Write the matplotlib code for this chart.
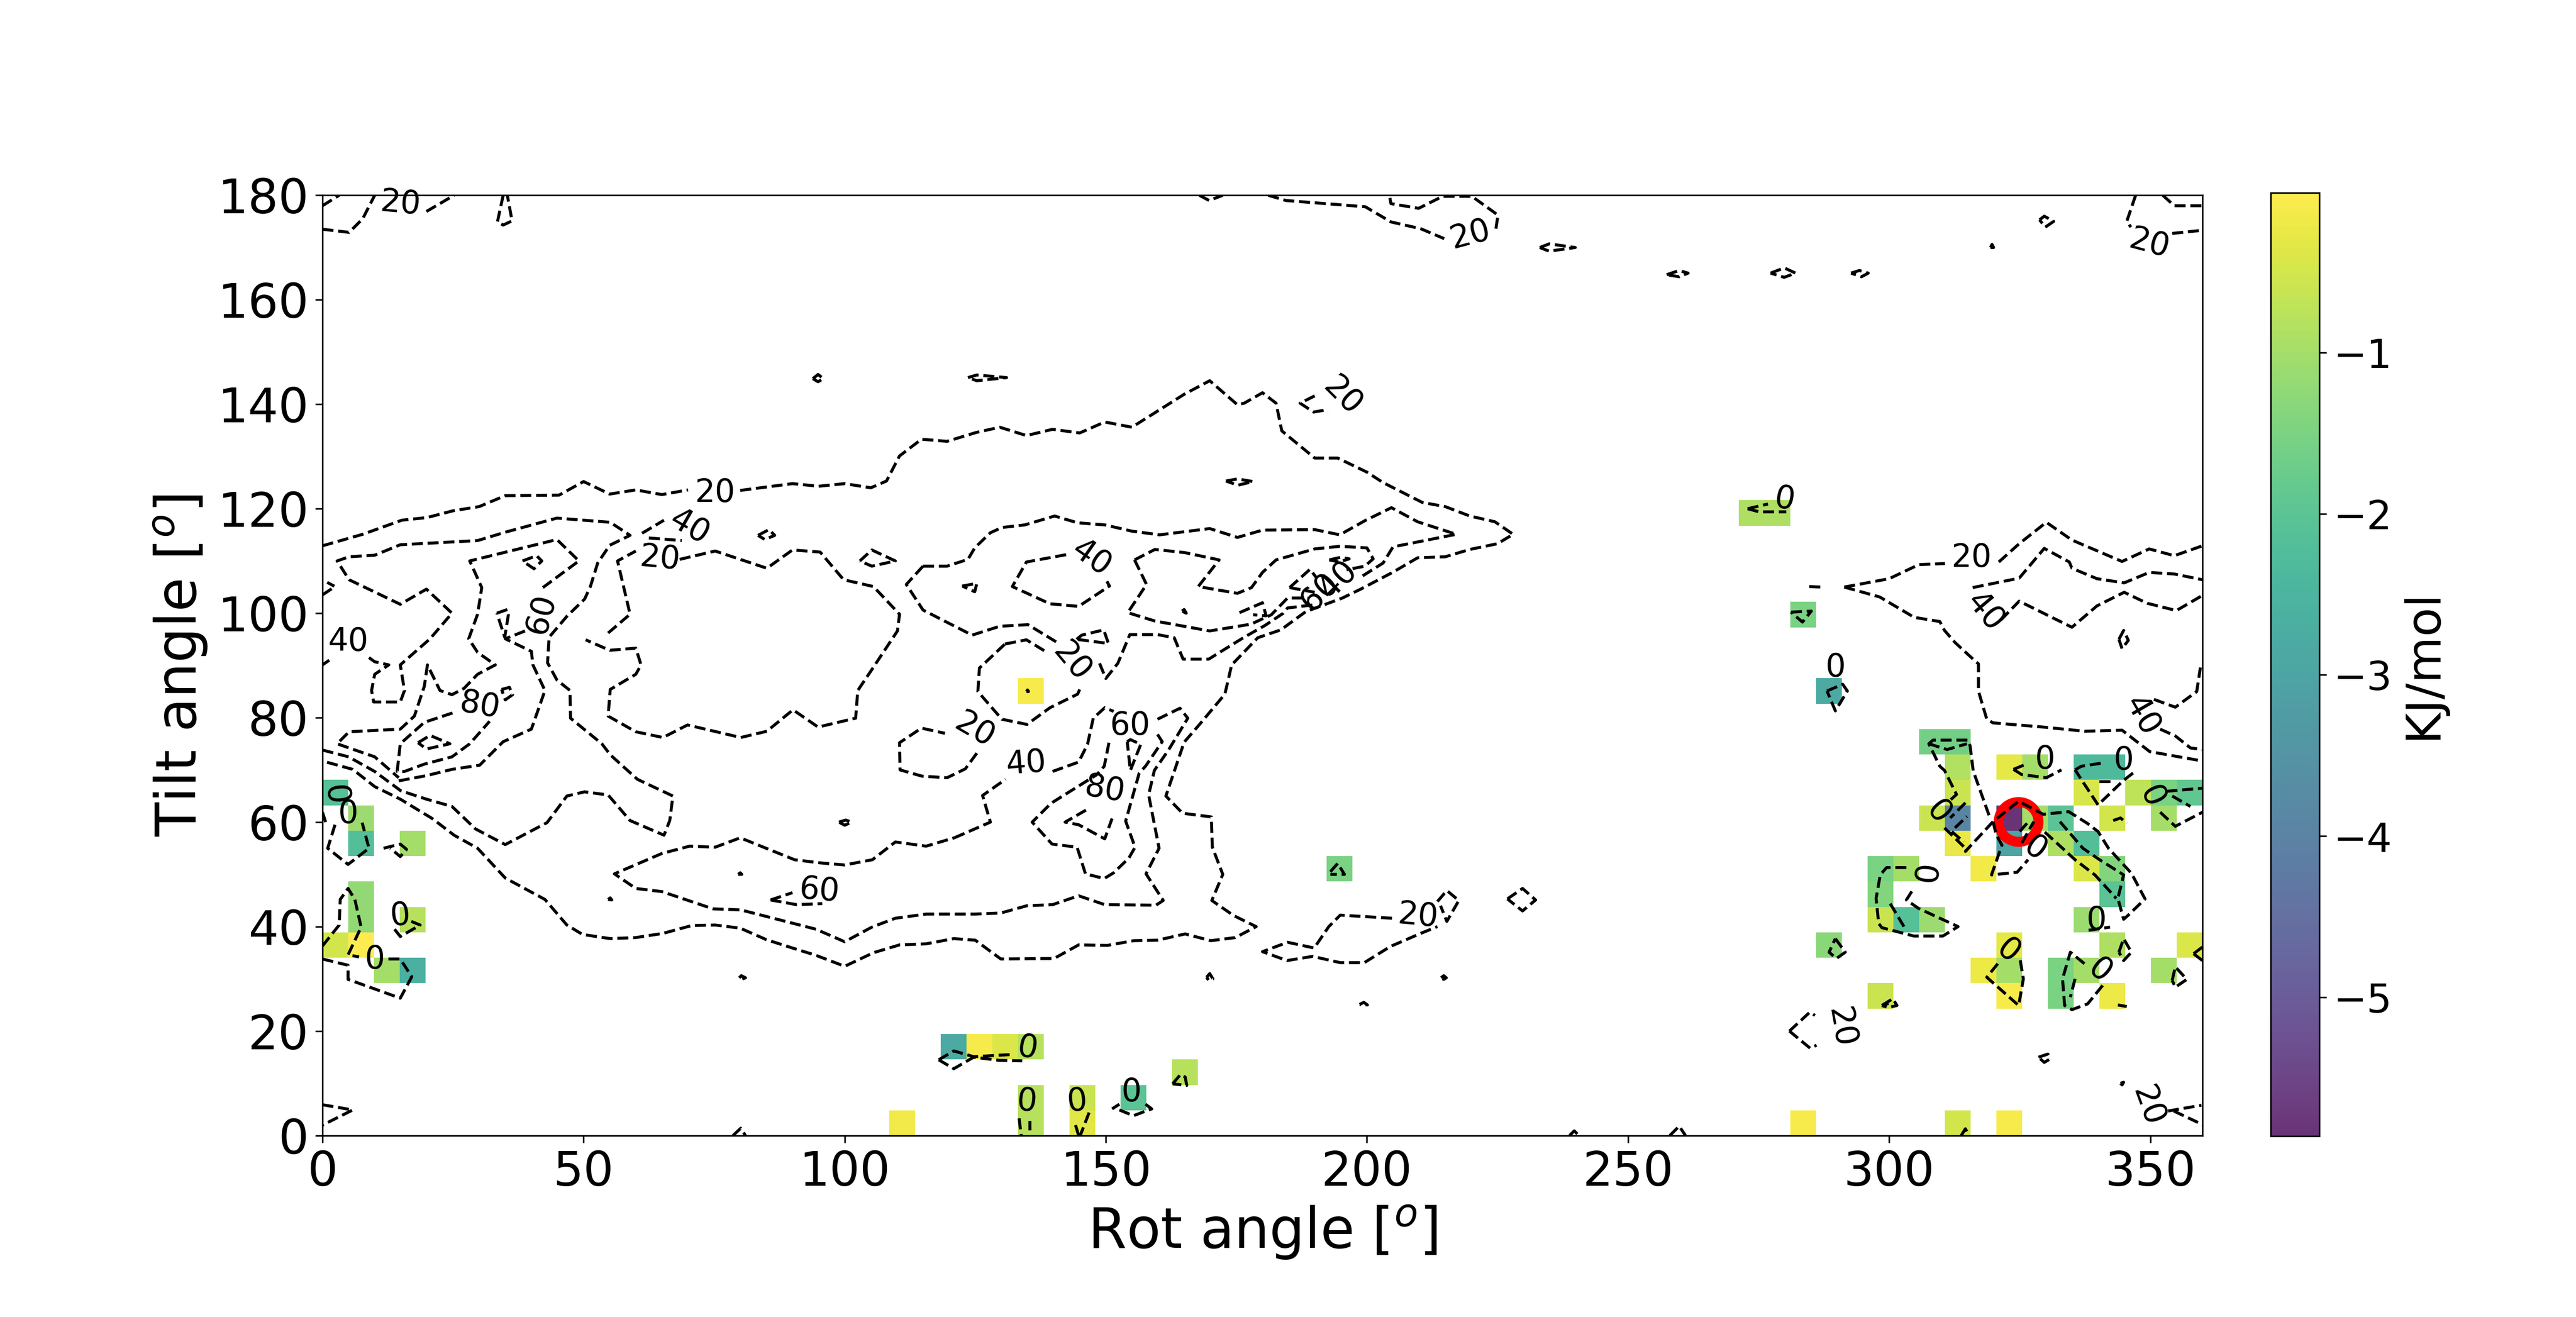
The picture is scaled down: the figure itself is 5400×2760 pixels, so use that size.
import numpy as np
import matplotlib
matplotlib.use('Agg')
import matplotlib.pyplot as plt

# free energy cells, grid is 73 x 37 stretched over the axes
heat_col = [0, 1, 1, 3, 1, 1, 3, 0, 1, 2, 3, 22, 24, 25, 26, 27, 27, 27, 29, 29, 31, 33, 39, 27,
            55, 56, 57, 58, 62, 63, 63, 63, 65, 66, 68, 69, 68, 70, 71, 72,
            62, 63, 65, 66, 67, 69, 71, 63, 65, 67, 68,
            60, 61, 64, 68, 69, 60, 69, 60, 61, 62, 68,
            58, 65, 69, 72, 64, 65, 67, 68, 71, 60, 65, 67, 69, 57, 63, 65]
heat_row = [13, 12, 11, 11, 9, 8, 8, 7, 7, 6, 6, 0, 3, 3, 3, 3, 0, 1, 0, 1, 1, 2, 10, 17,
            24, 24, 20, 17, 15, 15, 14, 13, 14, 14, 14, 14, 13, 13, 13, 13,
            12, 12, 12, 12, 12, 12, 12, 11, 11, 11, 11,
            10, 10, 10, 10, 10, 9, 9, 8, 8, 8, 8,
            7, 7, 7, 7, 6, 6, 6, 6, 6, 5, 5, 5, 5, 0, 0, 0]
heat_val = [-2.1, -1.1, -2.2, -1.0, -1.2, -1.2, -0.8, -0.5, -0.01, -1.0, -2.6, -0.15, -2.8, -0.1, -0.4, -0.8,
            -0.8, -0.8, -0.35, -0.6, -2.0, -0.8, -1.5, -0.1,
            -0.9, -0.9, -1.5, -2.8, -1.6, -1.6, -0.85, -0.6, -0.3, -1.0, -2.3, -2.3, -0.45, -0.7, -1.5, -1.9,
            -0.6, -3.9, -5.86, -1.0, -2.0, -0.5, -1.0, -0.25, -3.0, -0.9, -2.2,
            -1.5, -1.0, -0.15, -0.4, -1.4, -1.4, -2.0, -0.6, -2.1, -1.1, -1.1,
            -1.3, -0.3, -0.9, -0.4, -0.2, -1.0, -1.5, -1.0, -1.0, -0.6, -0.1, -1.5, -0.2, -0.1, -0.5, -0.1]

target_rot = 324.7
target_tilt = 60.1

# contour lines, (rot, tilt)
lines_20 = [
    [(0, 112.9), (7.7, 115.1), (15.2, 117.8), (20, 118.3), (25, 119.6), (30, 120.4), (35, 122.5), (45.3, 122.6),
     (50, 125.2), (55, 122.8), (60, 123.6), (65, 122.7), (70, 123.6)],
    [(80, 123.5), (90, 124.8), (95, 124.3), (100, 124.8), (105, 124), (108, 125.3), (110.5, 130.1), (114.7, 133.3),
     (119.6, 132.9), (125.2, 134.6), (129.7, 135.6), (134.8, 134), (139.8, 135.2), (145, 134.5), (149.8, 136.6),
     (155, 135.6), (158.5, 137.8), (165, 141.9), (169.9, 144.5), (175.2, 139.9), (176.5, 140.2), (180, 142.2),
     (182.6, 140.2), (183.7, 134.9), (190, 129.7), (194.4, 129.7), (200, 127), (203.1, 125), (210.6, 121.2),
     (215, 120.4), (219.7, 118.6), (224.5, 117.5), (228, 115.1), (225, 113.3), (219.7, 112.2), (215, 110.8),
     (209.7, 110.6), (204.9, 107.8), (198.8, 104.6), (195.3, 102.9), (188.3, 100.3), (183.5, 96.8), (179.1, 95.3),
     (174.1, 90.1), (172.8, 84.5), (168.2, 79), (165, 75.3), (161.5, 65), (164.7, 61.7), (170.2, 61), (170.4, 55.2),
     (172.4, 50), (170.3, 45), (174.5, 42.1), (178.8, 40), (174.8, 37.9), (170.1, 37.3), (165.2, 38.6),
     (159.9, 37.4), (155.3, 37.3), (150.3, 36.4), (144.8, 36.5), (140.1, 33.9), (129.9, 33.8), (125, 37.4),
     (120.9, 37.7), (115.6, 36.7), (110.5, 36.5), (105.5, 35), (100, 32.4), (94.5, 34.5), (90, 35.9), (85, 37.5),
     (80, 39.7), (75.2, 40.3), (70.7, 40.2), (65.2, 38.7), (60, 37.9), (55.1, 37.7), (49.8, 38.5), (46.8, 40.3),
     (42.6, 45.2), (35, 49.3), (29.7, 55), (25.2, 57.5), (21, 60.7), (14.9, 64.4), (10, 66.8), (5.8, 70.1), (0, 71.7)],
    [(68.4, 110.3), (75.2, 111.9), (85.1, 108.6), (90, 112.1), (95.3, 111.7), (99.8, 106.4), (105.5, 105.1),
     (110.5, 99.8), (110.1, 96.6), (105.2, 89.2), (102.5, 85.2), (102.1, 79.9), (94.9, 78.2), (90.1, 81.5),
     (85.1, 77.4), (80.1, 76.2), (69.9, 78.6), (65.2, 76.2), (60, 77.3), (54.7, 80.3), (55.1, 85.4), (60, 88.3),
     (61, 90.1), (60, 93.3), (55, 92.9), (50.4, 94.9)],
    [(54.7, 96.2), (58.9, 99.8), (56.5, 110), (60, 111.9)],
    [(130.7, 94.1), (134.8, 94.9), (138.4, 92.7)],
    [(145, 85.4), (144.6, 84.5), (139.3, 81.9), (134.9, 78.7), (130.1, 79.7), (125.5, 85), (125.8, 89.5), (130.7, 94.1)],
    [(125.3, 73.2), (123.1, 70.2), (119.6, 68.5), (114.8, 68.8), (110.6, 70), (110.5, 75.2), (114.7, 78), (119.2, 77)],
    [(204.8, 41.6), (194.9, 42.2), (192.7, 40), (189.9, 35.9), (184.8, 37), (180, 35.2), (184.7, 33.5), (189.6, 34.3),
     (194.9, 33.1), (199.5, 33.1), (204.5, 36.2), (210.3, 38.7), (213.5, 40)],
    [(291.4, 105), (300, 106.6), (305.7, 109.3), (310.7, 109.5)],
    [(321, 109.8), (324.9, 113.3), (330.1, 117.4), (335, 114), (344.6, 109.9), (349.8, 112.3), (354.6, 111), (360, 112.9)],
    [(291.4, 105), (298.2, 103.1), (304.8, 99.2), (309.7, 98.4), (310.6, 96.7), (312.6, 94.4), (316.4, 90.9),
     (317.1, 90.3), (317.1, 85.1), (318.7, 79.7), (319.9, 79), (329.5, 78.2), (337.4, 77.4), (344.6, 77.6),
     (349.9, 73.5), (360, 71.7)],
    [(347.2, 180), (345.5, 175), (346.3, 173.9)],
    [(354.2, 172.7), (360, 173.3)],
    [(352.4, 180), (354.6, 178), (360, 178)],
    [(181.1, 180), (184.5, 179), (199.7, 177.8), (204.6, 174.9), (210.3, 173.6), (214.8, 171.7)],
    [(224.7, 173.6), (225.1, 176.2), (220.1, 179.8), (214.5, 179.8), (209.9, 177.5), (204.6, 178.4), (204.4, 179.5)],
    [(167.9, 180), (169.8, 179), (172.4, 180)],
    [(0, 178), (3.2, 180)],
    [(0, 173.5), (5.1, 172.9), (7.7, 175.5), (10, 180)],
    [(19.9, 176.9), (25.2, 180)],
    [(34.6, 180), (33.5, 174.9), (34.6, 174.3), (36.3, 175.1), (35.4, 180)],
    [(190, 141.6), (187.2, 140.2), (189.8, 138.5), (192.6, 139)],
    [(280.9, 20), (284.8, 23.6), (285.8, 23)],
    [(280.9, 20), (284.9, 16.7), (286.1, 17.3)],
    [(353.4, 4.7), (359.8, 5.8)],
    [(354.5, 4.7), (360, 2.1)],
    [(0, 103.5), (2.4, 105.1), (0.9, 105.9)],
]

lines_40 = [
    [(0, 90.1), (1.3, 91)],
    [(8.9, 91.5), (10, 90.7), (12.7, 90.1), (10, 88.3), (9.4, 85.2), (9.8, 83), (14.9, 83), (15.7, 85.2), (14.9, 90.1),
     (20.6, 95.1), (24.8, 100), (19.9, 104.6), (14.9, 101.7), (5.1, 106.4), (2.8, 110), (5.1, 110.8), (10, 111.1),
     (14.9, 113.1), (29.7, 113.9), (35, 115.5), (44.9, 118.2), (55.1, 117.4), (58.9, 114.9), (55, 113), (52.7, 109.6),
     (51.3, 105.1), (50.2, 102.7), (46.8, 99.4), (43.4, 95.4), (43.1, 90.5), (44.9, 87.2), (47.4, 85.2), (47.5, 79.9),
     (53.5, 75), (55.1, 72.9), (60.3, 68.2), (67.1, 65), (66.5, 60.3), (65.4, 57.5), (58.9, 60.3), (54.7, 65.2),
     (50.2, 65.8), (46.8, 65), (43, 59.9), (35, 55.7), (29.3, 58.7), (24.8, 63), (19.9, 64.4), (15, 66), (10, 69.7),
     (5, 72.5), (0, 73.8)],
    [(61.2, 115.3), (65.4, 117.8)],
    [(62.5, 114.4), (68.8, 113.9)],
    [(142.4, 111.2), (134.8, 109.8), (132.1, 105.1), (139.3, 101.8), (144.8, 101.3), (150.7, 105.2), (150.2, 106.1)],
    [(115, 109), (119.6, 109), (123.6, 110.3), (124.9, 112.5), (127.9, 115.4), (130.1, 116.4), (134.5, 116.9),
     (140.2, 118.6), (144.6, 117.3), (149.8, 116.9), (155, 115.7), (160.3, 115), (169.9, 116.2), (175.2, 114.5),
     (180, 115.9), (190, 116), (194.8, 115), (199.6, 117.7), (204.7, 120.2), (209.7, 117.5), (217.1, 115.1),
     (205, 112.7), (203.1, 109.6), (198.8, 106.9)],
    [(115, 109), (111.8, 105.5), (115, 100.6), (124.4, 95.8), (129.7, 97.5), (135.1, 97.8), (141, 94.2)],
    [(148.8, 90.4), (150, 87.5), (152.3, 90.4), (154.6, 95.9), (159.9, 95.9), (163.1, 95.3), (164.8, 91.2),
     (169.7, 91.2), (176.5, 95.4), (180.4, 97.6), (184, 100), (184.8, 101), (189.8, 101.6)],
    [(121, 57), (127.9, 60), (126.4, 65.1), (130.8, 68.2)],
    [(139.8, 69.7), (144.8, 71.5), (146.5, 74.9), (147.6, 79.9), (149.8, 81.9), (151.5, 81.2)],
    [(159.9, 79.7), (164.2, 81.8), (165.7, 79.9), (162, 73.8), (159.3, 69.9), (158.2, 65.2), (160.2, 55), (157.7, 50.1),
     (161, 45), (159.6, 44.1), (149.8, 44.2), (144.8, 45.9), (139.8, 44.2), (134.9, 44), (129.9, 42.6), (125, 42.4),
     (120.9, 42.4), (115.6, 42.4), (109.7, 41.6), (105.2, 39.9), (100, 37.1), (94.5, 39.5), (80.1, 43.2), (74.8, 43.4),
     (65, 46.7), (60, 47.3), (55.9, 50.1), (65, 54), (70.3, 55.4), (75.2, 55.2), (80, 57), (90.4, 52.8), (95.3, 52.2),
     (100, 51.8), (105.3, 52.8), (109.7, 56.2), (115.6, 55.4), (121, 57)],
    [(316, 104.9), (324.9, 106.7), (329.7, 112.4), (334.5, 109.8), (335, 108.6), (339.8, 106.6), (345, 105.8),
     (349.8, 107.8), (354.6, 107.5), (360, 106.4)],
    [(321.4, 98.7), (324.9, 102.3), (335, 97.3), (339.8, 101.4), (345, 104), (349.4, 101.9), (355, 100.5), (360, 103.4)],
    [(350.7, 83.5), (354.8, 82), (358.9, 85), (359.6, 89.6)],
    [(351.9, 77.8), (354.8, 76.5), (357.7, 74.2), (360, 73.9)],
]

lines_60 = [
    [(42.2, 104.9), (49.1, 110), (44.9, 114.1), (28.2, 110), (30.5, 104.9), (29.7, 99.8), (28, 95.1), (29.7, 92.5),
     (33.1, 90.1), (29.7, 88.3), (27.1, 85.6), (24.8, 84.4), (22.5, 85.2), (20.1, 90.1), (19.5, 86), (17.6, 80.3),
     (14.9, 77.8), (5.1, 77.3), (2.8, 75), (10, 72.5), (14.6, 68.5)],
    [(14.6, 67.9), (19.9, 68.9), (24.8, 70.1), (30.1, 70.9), (34.6, 75.4), (40, 77.8), (42.6, 85.2), (40.3, 90.1),
     (40, 92.7), (35, 95.1), (38.8, 96.6)],
    [(155.5, 110.2), (157.8, 105.5), (154.2, 100.1), (159.4, 98.5), (169.9, 96.6), (177.8, 97.9), (181.7, 99.7),
     (184.8, 102.9), (188.7, 102.9)],
    [(155.5, 110.2), (159.4, 112.2), (165.1, 111.6), (171.7, 110.2), (167.7, 105.1), (175.2, 103.8), (177.9, 104.9),
     (180, 107.8), (182.6, 110.2), (190, 112.3), (194.8, 112.8), (200, 112.5), (201.2, 110.4), (199.6, 109), (196.1, 108.3)],
    [(159.9, 76.8), (160.8, 75.4), (157.6, 70.7), (156.4, 69.4), (153.8, 60.2), (155.6, 55.2), (154.4, 53.1),
     (151.5, 50.3), (149.7, 49.2), (146.1, 50.1), (144.5, 55.2), (139.7, 55.8), (135.9, 60), (139.5, 63.6), (148.3, 69.1)],
    [(150.6, 75.2), (149.7, 70.7), (148.3, 69.1)],
    [(85.8, 45.1), (90, 46.5)],
    [(85.8, 45.1), (90.8, 44.2), (95.7, 44.4)],
    [(185.2, 104.9), (190, 104)],
    [(185.2, 104.9), (189.1, 108.4), (190.4, 106.7)],
]

lines_80 = [
    [(24.9, 80.9), (19.5, 79.1), (14.9, 75), (14.3, 69.7), (15.7, 69.7), (19.5, 71.1), (24.8, 72.5), (28.2, 75), (32, 79.3)],
    [(146.2, 62.3), (142.2, 60), (144.8, 59.5), (149.8, 56.8), (151.2, 60.7)],
]

lines_0 = [
    [(288.1, 85.1), (291.1, 86.4), (292, 85.1), (289.7, 81.3), (288.1, 85.1)],
    [(311.8, 64.3), (312.9, 65.3), (310.6, 69.9), (309.7, 70.7), (307.6, 75), (308.4, 75.7), (315.1, 75.7), (315.5, 74.6),
     (316.1, 69.8), (319.2, 61.1)],
    [(307.6, 75), (311.1, 73.9), (314.9, 75)],
    [(314.6, 63.7), (311.7, 60.8)],
    [(312.6, 58.9), (314.9, 61.1)],
    [(310.6, 58.9), (314.9, 54.7), (314.6, 54.4), (319.9, 60.1), (324.8, 64), (329.5, 61.5), (334.4, 62), (337.9, 59.8),
     (340, 58.2), (342, 55), (346.4, 50.2), (349, 45.3), (345.8, 42.2), (344.9, 41.4), (343.8, 45.4), (344.9, 49.9),
     (340.3, 52.8), (337.1, 55), (332.7, 60.1)],
    [(312, 58.2), (314.3, 56.2)],
    [(319.9, 60.1), (320.5, 57.6), (321.6, 55.6), (319.6, 49.9), (324.5, 50.4), (326.6, 52.8)],
    [(325.4, 56), (327.7, 60.1)],
    [(325, 58.2), (326.6, 60)],
    [(329.8, 58.1), (335.6, 52.8), (339.4, 49.9), (343.5, 45.4)],
    [(323.8, 70.1), (325.4, 69.1), (330.1, 68.5), (333, 70)],
    [(323.8, 70.1), (326, 71)],
    [(335.6, 70), (336.8, 70.7), (341.4, 71.4)],
    [(346.7, 69.4), (344.9, 68), (340, 63.3), (335.6, 70)],
    [(340.3, 67.8), (342.6, 67.8)],
    [(353.1, 65.9), (360, 66.5)],
    [(354.2, 65), (357.7, 63)],
    [(351.9, 61.9), (354.8, 59.2), (360, 61.9)],
    [(342.9, 60.3), (344.3, 60.8), (345.5, 59.8)],
    [(303.3, 51.3), (299.5, 51.3), (298.3, 49.9), (297.5, 45.4), (298, 40.6), (298.6, 39.8), (304.7, 38.2), (310.3, 38.2),
     (313.2, 40), (305.6, 43.5), (303.3, 45.1), (304.7, 47.3)],
    [(300.2, 44.4), (302.9, 39.9)],
    [(289.7, 37.7), (291.6, 35.1), (289.9, 33.9), (288.5, 35.1), (289.7, 37.7)],
    [(320.8, 32.9), (318.7, 30.3), (324.8, 24.9), (325.7, 30), (325, 34.2)],
    [(337.4, 32.9), (334.7, 35.1), (333.2, 30), (333.6, 24.9), (335, 24.1), (338, 25.2), (341.1, 29)],
    [(335.6, 30), (334.7, 26.5)],
    [(344, 35.1), (344.9, 37.7), (346.4, 35.1), (344.9, 33.5), (344, 35.1)],
    [(354.2, 29.7), (354.8, 32.3), (357, 29.9), (354.8, 28.4), (354.2, 29.7)],
    [(358.3, 34.8), (360, 36.1)],
    [(358.3, 34.8), (360, 33.5)],
    [(338.2, 39.3), (342.3, 39.9)],
    [(298.6, 24.9), (300.7, 26.2), (301.5, 24.9), (299.8, 24.5), (298.6, 24.9)],
    [(343.8, 25), (345.5, 24.7)],
    [(272.9, 120), (276.8, 120.9)],
    [(272.9, 120), (275.1, 119.4), (280.3, 119.4)],
    [(281.2, 100.2), (285.1, 100.4), (283.4, 98.3), (281.2, 100.2)],
    [(0, 33.8), (4.9, 32.6), (4.9, 29.9), (14.9, 26.3), (17.1, 30.4), (14.9, 33.8), (12.3, 33.8)],
    [(0, 36.3), (3.2, 40.3), (3.4, 45.2), (4.9, 47.3), (6.2, 45.2), (7.4, 39.9), (4.9, 34.6), (7, 34.2)],
    [(13.8, 39.5), (14.9, 38.1), (18.7, 40.3), (17, 41)],
    [(11.7, 55), (14.9, 55.8), (16.1, 54.8), (14.9, 53.4), (13, 55)],
    [(2.4, 59.5), (1, 55), (4.9, 51.9), (8.9, 55), (7.6, 59.9)],
    [(0, 61.9), (0.6, 60)],
    [(118, 14.5), (120.9, 16.2), (124.7, 15.1), (131.7, 15.5)],
    [(118, 14.5), (120.9, 12.8), (124.7, 15), (129.6, 14.4), (134, 14.3)],
    [(133.4, 3.3), (133.8, 0)],
    [(135.5, 2.8), (135.5, 1)],
    [(144.2, 2), (144.8, 0)],
    [(146.8, 4.4), (145.1, 0)],
    [(151.2, 5.1), (152.6, 6)],
    [(152.6, 4.9), (155.3, 3.8), (158.2, 4.9), (158.8, 5.1), (157.6, 6)],
    [(162.8, 9.9), (164.3, 11.7), (165.2, 11.2), (165.5, 9.6), (162.8, 9.9)],
    [(193, 50.5), (194.4, 52.1), (195.7, 50), (193, 50)],
]

# tiny closed loops scattered over the map
small_loops = [
    [(18.3, 75.2), (20.6, 76.6), (24.4, 75), (19.9, 74), (18.3, 75.2)],
    [(34.3, 85.4), (35.8, 85.8), (36.4, 84.4), (35, 83.4), (34.3, 85.4)],
    [(38.3, 110), (41, 111), (42, 110), (40.5, 108.5), (38.3, 110)],
    [(33.4, 100), (35.4, 100.7), (35.6, 99.7), (34.9, 95.4), (33.4, 100)],
    [(83.4, 114.9), (85.5, 116), (86.6, 114.9), (84.7, 114.1), (83.4, 114.9)],
    [(102.9, 110), (105.2, 112.1), (109.7, 110), (105.2, 109), (102.9, 110)],
    [(122.5, 105.2), (125.3, 105.7), (124.9, 104.1), (122.5, 105.2)],
    [(173, 125.3), (175.2, 125.7), (178.2, 125.2), (175.3, 124.5), (173, 125.3)],
    [(123.6, 145.1), (125.3, 145.6), (131, 145.1), (125.3, 144.5), (123.6, 145.1)],
    [(175.6, 100.1), (180, 102), (180.7, 99.5), (178.2, 99.7)],
    [(144.4, 95), (145.4, 95.8), (149.6, 96.8), (150.5, 94.2), (144.4, 95)],
    [(154.1, 75.4), (154.7, 75.8), (156.7, 74.9), (154.7, 69.9), (154.1, 75.4)],
    [(213.5, 44.8), (215.3, 46.9), (217.6, 45), (215.3, 41), (214.1, 44)],
    [(226.9, 45.3), (229.8, 47.3), (232.3, 45.1), (229.8, 43), (226.9, 45.3)],
    [(233.1, 170), (234.9, 170.7), (239.9, 170), (234.9, 169.3), (233.1, 170)],
    [(257.4, 164.8), (259.8, 165.6), (261.5, 165.1), (259.8, 164.4), (257.4, 164.8)],
    [(277.3, 165.1), (279.9, 166.1), (282.1, 165.1), (279.9, 164.3), (277.3, 165.1)],
    [(292.7, 165.1), (294.3, 165.6), (296, 165.1), (294.7, 164.4), (292.7, 165.1)],
    [(328.8, 175.3), (329.7, 176), (331.5, 175), (329.9, 173.9), (328.8, 175.3)],
    [(319.4, 170), (319.7, 170.6), (320, 170), (319.4, 170)],
    [(93.9, 144.9), (94.9, 145.7), (95.9, 144.9), (94.9, 144.3), (93.9, 144.9)],
    [(344, 95), (344.9, 96.7), (345.8, 94.8), (344.6, 93.2), (344, 95)],
    [(284.7, 105.1), (286.9, 105)],
    [(328.6, 15), (330.4, 15.6), (330.7, 14.6), (329.7, 14), (328.6, 15)],
    [(344.3, 10), (344.9, 10.2), (344.6, 9.7), (344.3, 10)],
    [(298.9, 25), (299.9, 25.3)],
    [(0, 5.9), (5.8, 4.9), (0, 2)],
    [(78.6, 0), (80.1, 1.4), (81, 0)],
    [(258, 0), (259.8, 1.8), (261, 0)],
    [(238.8, 0), (239.7, 0.9), (240.6, 0)],
    [(313.8, 0), (314.6, 1.3), (315.3, 0)],
    [(79.6, 50), (80, 50.3), (80.3, 50), (79.6, 50)],
    [(54.7, 45.2), (55.1, 45.5), (55.4, 45.1), (54.7, 45.2)],
    [(79.8, 30.2), (80.2, 30.6), (81, 30.2), (80, 29.8), (79.8, 30.2)],
    [(98.9, 60), (100.2, 60.4), (101.3, 60), (100, 59.4), (98.9, 60)],
    [(169.3, 30.3), (169.9, 31), (170.5, 30), (169.7, 29.7), (169.3, 30.3)],
    [(198.6, 25.1), (199.4, 25.5), (200.1, 25), (198.6, 25.1)],
    [(214.2, 30.2), (214.7, 30.6), (215.2, 30.2), (214.7, 29.9), (214.2, 30.2)],
    [(164.6, 100.4), (165, 100.7), (165.4, 100), (164.6, 100.4)],
    [(134.8, 85), (135, 85.3), (135.2, 85), (134.8, 85)],
    [(192.8, 110.2), (195, 110.7), (196.6, 110.4), (194.7, 109.8), (192.8, 110.2)],
]

# labels on the contours
label_text = ['20', '40', '20', '40', '80', '60', '60', '40', '20', '20', '40', '20', '60', '80', '60', '40',
              '20', '20', '20', '20', '40', '20', '20', '20', '40',
              '0', '0', '0', '0', '0', '0', '0', '0', '0', '0', '0', '0', '0', '0', '0',
              '0', '0', '0', '0']
label_rot_deg = [75.1, 70.3, 64.6, 4.9, 30.1, 41.8, 95.1, 147.2, 143.5, 124.9, 134.8, 195.3, 154.6, 149.8, 190.9, 194.4,
                 14.9, 219.8, 349.8, 209.7, 348.4, 315.7, 290.8, 349.5, 318.4,
                 2.4, 4.9, 14.9, 10, 135, 134.9, 144.5, 154.9, 280, 289.7, 329.8, 344.9, 350.3, 309.4, 328,
                 307.4, 339.7, 322.8, 340.3]
label_tilt_deg = [123, 116.5, 110.4, 94.5, 82.3, 99.8, 46.9, 110.5, 90.7, 77.6, 71.2, 141.6, 78.4, 66.2, 104, 106.4,
                  178.4, 172.5, 170.7, 42, 80.3, 110.6, 20.7, 5.6, 100.2,
                  65.2, 61.5, 42.1, 33.7, 16.7, 6.5, 6.5, 8.3, 121.7, 89.6, 72, 71.8, 64.9, 61.9, 54.9,
                  50.5, 41.2, 35.3, 31.6]
label_angle = [0, -30, -5, 0, -10, 75, -5, -35, -50, -30, 5, -45, 0, -10, 45, 45,
               -5, 15, -15, -5, -60, 0, -80, -70, -50,
               -85, 0, 5, 0, -10, -5, 5, 0, -10, 0, 0, 0, -65, -50, -35,
               85, 0, -40, -40]

grid = np.full((37, 73), np.nan)
grid[heat_row, heat_col] = heat_val

fig = plt.figure(figsize=(18, 9.2), dpi=300)
ax = fig.add_axes([676 / 5400, 380 / 2760, 3941 / 5400, 1971 / 2760])

im = ax.imshow(grid, origin='lower', extent=[0, 360, 0, 180], cmap='viridis', alpha=0.8,
               interpolation='nearest', aspect='equal')

ax.plot(target_rot, target_tilt, 'o', mfc='none', mec='red', ms=20, mew=5, zorder=1.5)

# contours
for group in [lines_20, lines_40, lines_60, lines_80, lines_0, small_loops]:
    for path in group:
        xs = [p[0] for p in path]
        ys = [p[1] for p in path]
        ax.plot(xs, ys, color='k', linestyle='--', linewidth=1.5)

for txt, x, y, a in zip(label_text, label_rot_deg, label_tilt_deg, label_angle):
    ax.text(x, y, txt, fontsize=16, ha='center', va='center', rotation=a, rotation_mode='anchor')

ax.set_xlim(0, 360)
ax.set_ylim(0, 180)
ax.set_xticks(np.arange(0, 351, 50))
ax.set_yticks(np.arange(0, 181, 20))
ax.tick_params(labelsize=24)
ax.set_xlabel('Rot angle [$^o$]', fontsize=28, labelpad=4)
ax.set_ylabel('Tilt angle [$^o$]', fontsize=28, labelpad=4)

cax = fig.add_axes([4760 / 5400, 379 / 2760, 102 / 5400, 1977 / 2760])
cbar = fig.colorbar(im, cax=cax)
cbar.set_ticks([-1, -2, -3, -4, -5])
cbar.ax.tick_params(labelsize=20)
cbar.set_label('KJ/mol', fontsize=24, labelpad=4)

plt.savefig('out.png', dpi=300)
